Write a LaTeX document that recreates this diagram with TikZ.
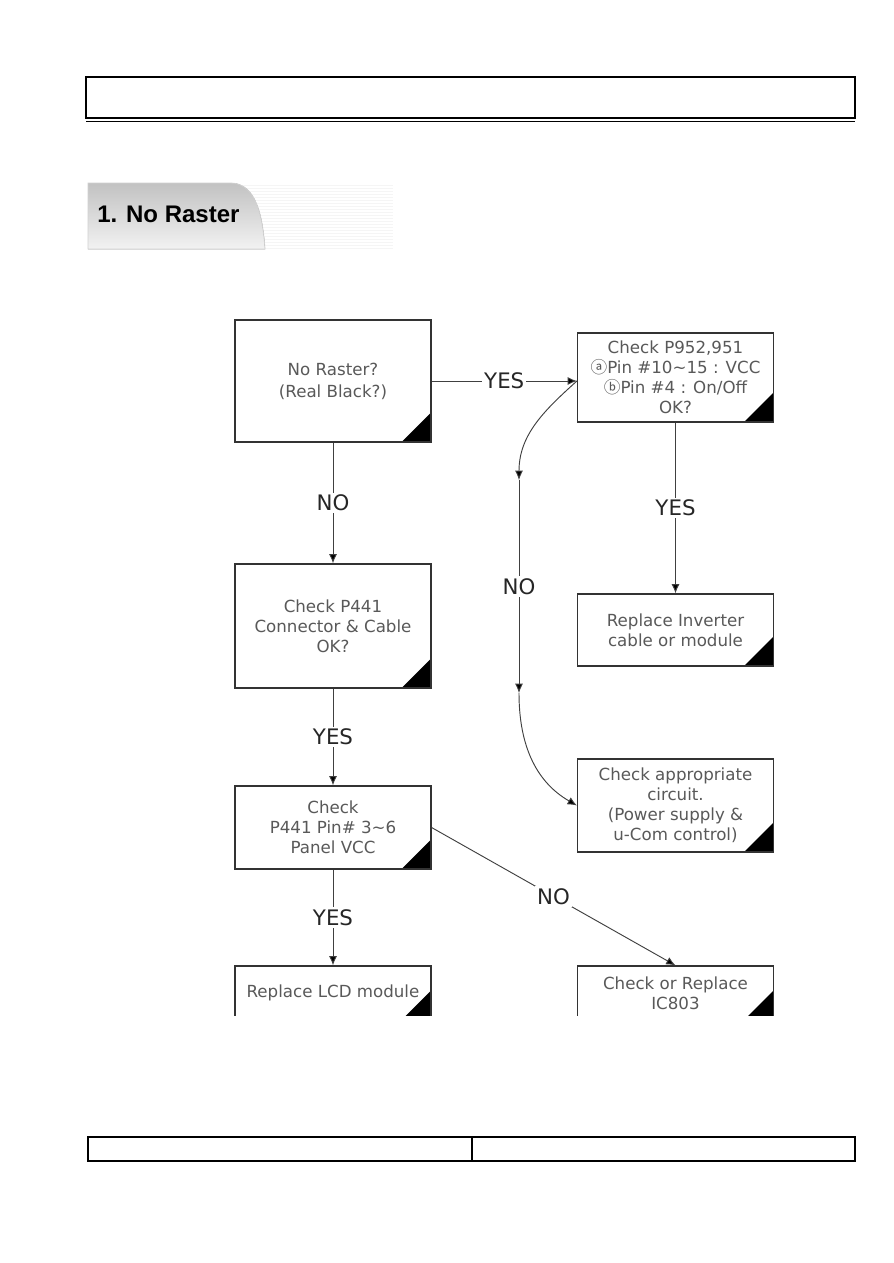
\documentclass[tikz,border=0pt]{standalone}
\usepackage{fontspec}
\setmainfont{DejaVu Sans}
\newfontfamily\tabfont{Liberation Sans}
\newfontfamily\circfont{Noto Sans CJK KR}
\usetikzlibrary{arrows.meta}

\tikzset{
  box/.style={
    draw=black!80,
    line width=0.9pt,
    fill=white,
    text=black!65,
    font=\fontsize{12.5}{15}\selectfont,
    align=center,
    inner sep=0pt,
    minimum width=147pt,
    path picture={
      \fill[black] (path picture bounding box.south east) -- ++(-22pt,0pt) -- ++(22pt,22pt) -- cycle;
    }
  },
  answer/.style={
    fill=white,
    text=black!85,
    font=\fontsize{16}{18}\selectfont,
    inner sep=1.5pt
  },
  flow/.style={
    draw=black!75,
    line width=0.7pt,
    -{Latex[length=7pt,width=6pt,fill=black]}
  }
}

\begin{document}
\begin{tikzpicture}[x=0.75pt, y=-0.75pt]
  \useasboundingbox (0,0) rectangle (893,1263);
  \fill[white] (0,0) rectangle (893,1263);

  \draw[line width=1.5pt] (86,77) rectangle (855,118);
  \draw[line width=0.6pt] (86,121) -- (855,121);

  \fill[black!4] (225,183) rectangle (393,249);
  \foreach \y in {184,187,...,248}
    \draw[white, line width=0.8pt] (225,\y) -- (393,\y);
  \fill[top color=black!24, bottom color=black!5, draw=black!18, line width=0.6pt]
    (88,183) -- (230,183) .. controls (252,183) and (262,205) .. (265,249) -- (88,249) -- cycle;
  \node[anchor=base west, inner sep=0pt, font=\tabfont\bfseries\fontsize{18}{20}\selectfont] (title) at (97,222) {1. No Raster};

  \node[box, minimum height=91.5pt, font=\fontsize{12.5}{16.5}\selectfont] (raster) at (333,381) {No Raster?\\(Real Black?)};
  \node[box, minimum height=66.75pt] (p952) at (675.5,377.5) {Check P952,951\\{\circfont ⓐ}Pin \#10\textasciitilde15 : VCC\\{\circfont ⓑ}Pin \#4 : On/Off\\OK?};
  \node[box, minimum height=93pt] (p441conn) at (333,626) {Check P441\\Connector \& Cable\\OK?};
  \node[box, minimum height=54pt] (inverter) at (675.5,630) {Replace Inverter\\cable or module};
  \node[box, minimum height=69.75pt] (circuit) at (675.5,805.5) {Check appropriate\\circuit.\\(Power supply \&\\u-Com control)};
  \node[box, minimum height=62.25pt] (p441pin) at (333,827.5) {Check\\P441 Pin\# 3\textasciitilde6\\Panel VCC};
  \begin{scope}
    \clip (0,0) rectangle (893,1015);
    \node[box, minimum height=40.5pt] (lcd) at (333,993) {Replace LCD module};
    \node[box, minimum height=40.5pt] (ic803) at (675.5,993) {Check or Replace\\IC803};
  \end{scope}

  \coordinate (nobend) at (519,480);
  \coordinate (nobottom) at (519,693);

  \draw[flow] (raster.east) -- node[answer]{YES} (raster.east -| p952.west);
  \draw[flow] (raster) -- node[answer]{NO} (p441conn);
  \draw[flow] (p952) -- node[answer]{YES} (inverter);
  \draw[flow] (raster.east -| p952.west) to[out=-138, in=90] (nobend);
  \draw[flow] (nobend) -- node[answer]{NO} (nobottom);
  \draw[flow] (nobottom) to[out=-90, in=150] (circuit.west);
  \draw[flow] (p441conn) -- node[answer]{YES} (p441pin);
  \draw[flow] (p441pin) -- node[answer]{YES} (lcd);
  \draw[flow] (p441pin.east) -- node[answer]{NO} (ic803.north);

  \draw[line width=0.9pt] (88,1137) rectangle (855,1161);
  \draw[line width=0.9pt] (472,1137) -- (472,1161);
\end{tikzpicture}
\end{document}
